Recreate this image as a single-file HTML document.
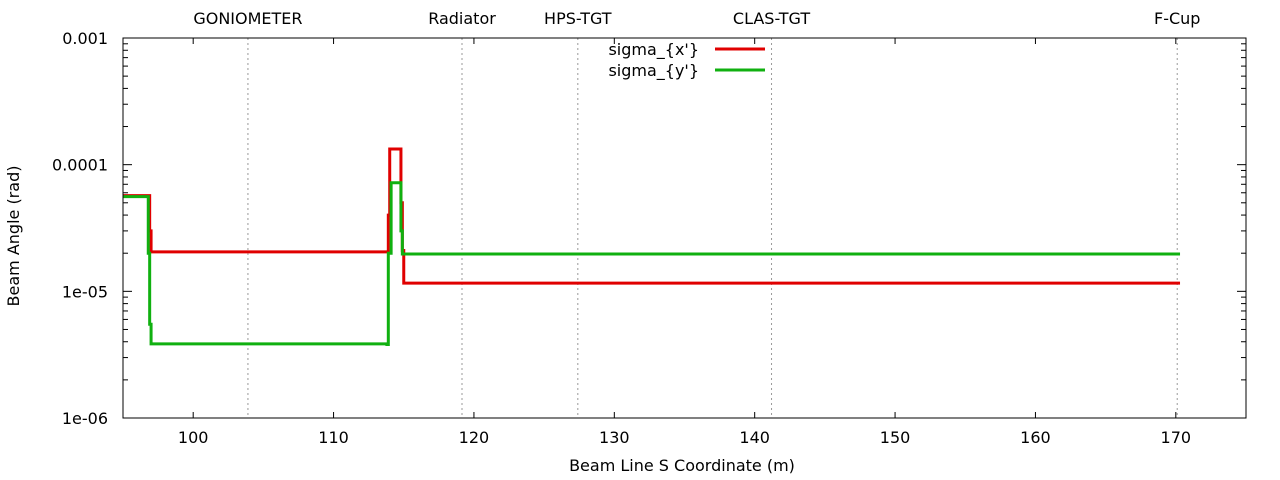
<!DOCTYPE html>
<html><head><meta charset="utf-8"><style>
body{margin:0;background:#fff;}
svg{display:block;font-family:"DejaVu Sans",sans-serif;font-size:16px;}
</style></head><body>
<svg id="chart" width="1280" height="480">
<rect x="0" y="0" width="1280" height="480" fill="#fff"/>
<g id="grid"></g><g id="axes"></g><g id="series"></g>
<rect x="123" y="38" width="1123" height="380" fill="none" stroke="#000" stroke-width="1"/>
<text x="682" y="471" text-anchor="middle">Beam Line S Coordinate (m)</text>
<text transform="translate(19,236) rotate(-90)" text-anchor="middle">Beam Angle  (rad)</text>
<g>
<text x="699" y="55" text-anchor="end">sigma_{x'}</text>
<line x1="715" y1="49" x2="765" y2="49" stroke="#e00000" stroke-width="3"/>
<text x="699" y="76" text-anchor="end">sigma_{y'}</text>
<line x1="715" y1="70" x2="765" y2="70" stroke="#10b010" stroke-width="3"/>
</g>
</svg>
<script>
const xTicks=[100,110,120,130,140,150,160,170];
const yTicks=[1e-6,1e-5,1e-4,1e-3];
const yTickLabels=["1e-06","1e-05","0.0001","0.001"];
const markerNames=["GONIOMETER","Radiator","HPS-TGT","CLAS-TGT","F-Cup"];
const markerPos=[103.9,119.15,127.4,141.2,170.1];
const sX=[95,96.8,96.9,97.0,97.1,113.8,113.9,114.0,114.7,114.8,114.9,115.0,170.3];
const sigX=[5.7e-5,5.7e-5,3.0e-5,2.05e-5,2.05e-5,2.05e-5,4e-5,1.33e-4,1.33e-4,5e-5,2.1e-5,1.16e-5,1.16e-5];
const sY=[95,96.7,96.8,96.9,97.0,113.2,113.8,113.9,114.1,114.7,114.8,114.9,115.0,170.3];
const sigY=[5.6e-5,5.6e-5,2.0e-5,5.5e-6,3.85e-6,3.85e-6,3.8e-6,2.0e-5,7.2e-5,7.2e-5,3.0e-5,1.97e-5,1.97e-5,1.97e-5];
const L=123,R=1246,T=38,B=418,X0=95,X1=175;
const NS="http://www.w3.org/2000/svg";
function sx(v){return L+(v-X0)/(X1-X0)*(R-L);}
function sy(v){return B-(Math.log10(v)+6)/3*(B-T);}
function mk(tag,attrs,parent){const e=document.createElementNS(NS,tag);for(const k in attrs)e.setAttribute(k,attrs[k]);parent.appendChild(e);return e;}
const grid=document.getElementById('grid'),axes=document.getElementById('axes'),ser=document.getElementById('series');
markerPos.forEach((p,i)=>{
 const ln=mk('line',{x1:sx(p),x2:sx(p),y1:T,y2:B,stroke:'#999','stroke-dasharray':'2,3'},grid);
 
 
 const t=mk('text',{x:sx(p),y:24,'text-anchor':'middle'},grid);t.textContent=markerNames[i];
 
 
});
xTicks.forEach(v=>{
 const x=sx(v);
 mk('line',{x1:x,x2:x,y1:B,y2:B-6,stroke:'#000'},axes);
 mk('line',{x1:x,x2:x,y1:T,y2:T+6,stroke:'#000'},axes);
 const t=mk('text',{x:x,y:443,'text-anchor':'middle'},axes);t.textContent=v;
 
 
});
yTicks.forEach((v,i)=>{
 const y=sy(v);
 mk('line',{x1:L,x2:L+9,y1:y,y2:y,stroke:'#000'},axes);
 mk('line',{x1:R,x2:R-9,y1:y,y2:y,stroke:'#000'},axes);
 const t=mk('text',{x:108,y:y+6,'text-anchor':'end'},axes);t.textContent=yTickLabels[i];
 
 
 if(i<yTicks.length-1)for(let m=2;m<=9;m++){const yy=sy(v*m);
  mk('line',{x1:L,x2:L+5,y1:yy,y2:yy,stroke:'#000'},axes);
  mk('line',{x1:R,x2:R-5,y1:yy,y2:yy,stroke:'#000'},axes);}
});
function steps(xs,ys){let d='M'+sx(xs[0])+','+sy(ys[0]);for(let i=1;i<xs.length;i++){d+=' L'+sx(xs[i])+','+sy(ys[i-1])+' L'+sx(xs[i])+','+sy(ys[i]);}return d;}
const px=mk('path',{d:steps(sX,sigX),fill:'none',stroke:'#e00000','stroke-width':3},ser);


const py=mk('path',{d:steps(sY,sigY),fill:'none',stroke:'#10b010','stroke-width':3},ser);


</script>
</body></html>
